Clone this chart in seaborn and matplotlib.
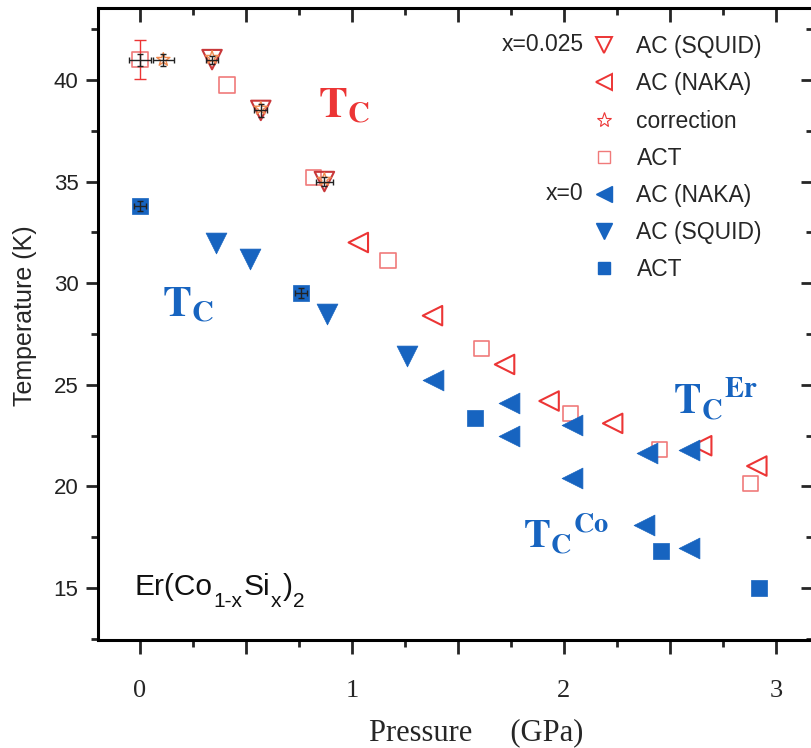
import numpy as np
import pandas as pd
import matplotlib
matplotlib.use("Agg")
import matplotlib.pyplot as plt
import seaborn as sns
from matplotlib.lines import Line2D
from matplotlib.ticker import MultipleLocator, FixedLocator

sns.set_theme(style="ticks")
plt.rcParams['font.family'] = ['Liberation Sans', 'DejaVu Sans']
plt.rcParams['mathtext.fontset'] = 'stix'

# ---------------- data ----------------
# x = 0.025
sq025_p = [0.34, 0.57, 0.87]
sq025_t = [41.0, 38.5, 35.0]

naka025_p = [1.03, 1.38, 1.72, 1.93, 2.23, 2.65, 2.91]
naka025_t = [32.0, 28.4, 26.0, 24.2, 23.1, 22.0, 21.0]

corr025_p = [0.11, 0.34, 0.57, 0.87]
corr025_t = [41.0, 41.1, 38.6, 35.1]

act025_p = [0.0, 0.41, 0.82, 1.17, 1.61, 2.03, 2.45, 2.88]
act025_t = [41.0, 39.75, 35.2, 31.1, 26.8, 23.6, 21.8, 20.15]

# x = 0
naka0_p = [1.38, 1.74, 1.74, 2.04, 2.04, 2.39, 2.59, 2.38, 2.59]
naka0_t = [25.25, 24.1, 22.5, 23.0, 20.4, 21.65, 21.8, 18.1, 16.95]

squid0_p = [0.36, 0.52, 0.88, 1.26]
squid0_t = [32.0, 31.2, 28.5, 26.4]

act0_p = [0.0, 0.76, 1.58, 2.46, 2.92]
act0_t = [33.8, 29.5, 23.35, 16.8, 15.0]

# error bars seen on a few points
err_p = [0.0, 0.11, 0.34, 0.57, 0.87, 0.0, 0.76]
err_t = [41.0, 41.0, 41.0, 38.5, 35.0, 33.8, 29.5]
err_dp = [0.05, 0.05, 0.03, 0.03, 0.04, 0.03, 0.03]
err_dt = [0.3, 0.3, 0.2, 0.3, 0.2, 0.25, 0.25]
ebar_p = [0.0]
ebar_t = [41.0]
ebar_dt = [0.95]

xticks_major = [0, 0.5, 1, 1.5, 2, 2.5, 3]
xtick_labels = ['0', '', '1', '', '2', '', '3']
yticks_major = [15, 20, 25, 30, 35, 40]

RED = '#ec3535'
PINK = '#f07a7a'
ORANGE = '#f08a50'
DRED = '#c8383a'
BLUE = '#1764c0'

# ---------------- figure ----------------
fig = plt.figure(figsize=(8.11, 7.48), dpi=100)
ax = fig.add_axes([98/811, 1-640/748, 715/811, 632/748])

def scat(p, t, marker, size, face, edge, lw=1.4, z=3):
    df = pd.DataFrame({'P': p, 'T': t})
    sns.scatterplot(data=df, x='P', y='T', ax=ax, marker=marker, s=size**2,
                    facecolor=face, edgecolor=edge, linewidth=lw, zorder=z, legend=False)

# x = 0.025 (open, red)
scat(act025_p, act025_t, 's', 11, 'none', PINK, 1.2)
scat(naka025_p, naka025_t, '<', 14, 'none', RED, 1.5)
scat(sq025_p, sq025_t, 'v', 14, 'none', DRED, 1.5)
scat(corr025_p, corr025_t, '*', 10, 'none', ORANGE, 1.0)
# x = 0 (filled, blue)
scat(naka0_p, naka0_t, '<', 15, BLUE, BLUE, 0.5)
scat(squid0_p, squid0_t, 'v', 15, BLUE, BLUE, 0.5)
scat(act0_p, act0_t, 's', 12, BLUE, BLUE, 0.5)

ax.errorbar(ebar_p, ebar_t, yerr=ebar_dt, fmt='none', ecolor=RED, elinewidth=1.0,
            capsize=4, zorder=4)
ax.errorbar(err_p, err_t, xerr=err_dp, yerr=err_dt, fmt='none', ecolor='#222222',
            elinewidth=1.0, capsize=2.5, zorder=5)

ax.set_xlim(-0.198, 3.175)
ax.set_ylim(12.44, 43.54)

# spines and ticks
for s in ['left', 'bottom', 'top', 'right']:
    ax.spines[s].set_linewidth(2.2)
    ax.spines[s].set_color('black')

ax.xaxis.set_major_locator(FixedLocator(xticks_major))
ax.set_xticklabels(xtick_labels)
ax.xaxis.set_minor_locator(MultipleLocator(0.25))
ax.yaxis.set_major_locator(FixedLocator(yticks_major))
ax.yaxis.set_minor_locator(MultipleLocator(2.5))

ax.tick_params(axis='x', which='major', direction='out', length=10, width=2, bottom=True, top=True, pad=19)
ax.tick_params(axis='x', which='minor', direction='out', length=5, width=2, bottom=True, top=True)
ax.tick_params(axis='y', which='major', direction='out', length=9, width=2, left=True, right=True, pad=5)
ax.tick_params(axis='y', which='minor', direction='out', length=5, width=2, left=True, right=True)
# top and right ticks point inward
for t in ax.xaxis.get_major_ticks() + ax.xaxis.get_minor_ticks():
    t.tick2line.set_marker(3)
for t in ax.yaxis.get_major_ticks() + ax.yaxis.get_minor_ticks():
    t.tick2line.set_marker(0)

for lab in ax.get_xticklabels():
    lab.set_fontfamily('Liberation Serif')
    lab.set_fontsize(19)
for lab in ax.get_yticklabels():
    lab.set_fontsize(16)
    lab.set_color('#222222')

ax.set_xlabel('Pressure     (GPa)', fontfamily='Liberation Serif', fontsize=22)
ax.xaxis.set_label_coords(0.529, -0.123)
ax.set_ylabel('Temperature (K)', fontsize=18)
ax.yaxis.set_label_coords(-0.085, 0.513)

# annotations
ax.text(0.84, 38.13, r'$\mathbf{T_C}$', color=RED, fontsize=31, ha='left', va='baseline')
ax.text(0.104, 28.35, r'$\mathbf{T_C}$', color=BLUE, fontsize=31, ha='left', va='baseline')
ax.text(2.514, 23.61, r'$\mathbf{T_C{}^{Er}}$', color=BLUE, fontsize=29.5, ha='left', va='baseline')
ax.text(1.807, 16.97, r'$\mathbf{T_C{}^{Co}}$', color=BLUE, fontsize=29, ha='left', va='baseline')

# compound label built from pieces (lower subscripts, as in the original)
pieces = [('Er(Co', False), ('1-x', True), ('Si', False), ('x', True), (')', False), ('2', True)]
base = ax.text(-0.024, 14.66, pieces[0][0], fontsize=21.5, ha='left', va='baseline', color='#111111')
prev = base
for txt, sub in pieces[1:]:
    prev = ax.annotate(txt, xy=(1, 0), xycoords=(prev, base),
                       xytext=(0.6, -7.5 if sub else 0), textcoords='offset points',
                       fontsize=15 if sub else 21.5, ha='left', va='bottom', color='#111111')

# legend
handles = [
    Line2D([], [], ls='none', marker='v', ms=11, mfc='none', mec=RED, mew=1.4),
    Line2D([], [], ls='none', marker='<', ms=11, mfc='none', mec=RED, mew=1.4),
    Line2D([], [], ls='none', marker='*', ms=11, mfc='none', mec=RED, mew=0.8),
    Line2D([], [], ls='none', marker='s', ms=8, mfc='none', mec=PINK, mew=1.0),
    Line2D([], [], ls='none', marker='<', ms=12, mfc=BLUE, mec=BLUE),
    Line2D([], [], ls='none', marker='v', ms=12, mfc=BLUE, mec=BLUE),
    Line2D([], [], ls='none', marker='s', ms=9, mfc=BLUE, mec=BLUE),
]
labels = ['AC (SQUID)', 'AC (NAKA)', 'correction', 'ACT', 'AC (NAKA)', 'AC (SQUID)', 'ACT']
leg = ax.legend(handles, labels, loc='upper left', bbox_to_anchor=(0.689, 0.957),
                frameon=False, fontsize=16.5, handlelength=1.2, handletextpad=0.8,
                labelspacing=0.62, borderpad=0, borderaxespad=0)
ax.text(0.679, 0.9415, 'x=0.025', transform=ax.transAxes, fontsize=16.5, ha='right', va='center')
ax.text(0.679, 0.707, 'x=0', transform=ax.transAxes, fontsize=16.5, ha='right', va='center')

fig.savefig('out.png', dpi=100)
